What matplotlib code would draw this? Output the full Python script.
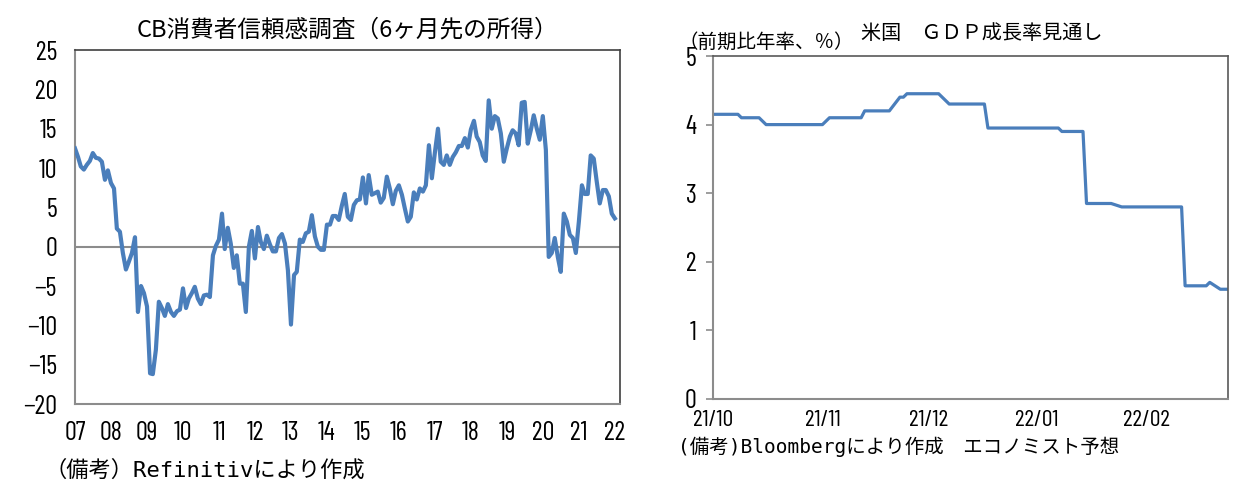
import numpy as np
import pandas as pd
import matplotlib
matplotlib.use('Agg')
import matplotlib.pyplot as plt

# CB consumer confidence, income expectations 6 months ahead (monthly, from Jan 2007)
cb_income = [
    12.5, 11.4, 10.2, 9.8, 10.4, 10.9, 11.9, 11.3, 11.2, 10.8, 8.5, 9.7,
    8.1, 7.4, 2.3, 1.9, -0.8, -2.9, -1.9, -0.8, 1.2, -8.3, -5.0, -5.9,
    -7.6, -16.1, -16.2, -13.1, -7.0, -7.8, -8.8, -7.3, -8.3, -8.8, -8.2, -8.0,
    -5.3, -7.8, -6.6, -5.9, -5.1, -6.6, -7.3, -6.2, -6.1, -6.4, -1.1, 0.1,
    0.9, 4.2, -0.3, 2.4, 0.4, -2.7, -1.1, -4.7, -4.7, -8.3, 0.0, 2.0,
    -1.5, 2.5, 0.6, -0.3, 1.4, 0.3, -0.6, -0.6, 1.1, 1.6, 0.4, -3.0,
    -9.9, -3.6, -3.2, 0.9, 0.6, 1.7, 1.9, 4.0, 1.3, 0.0, -0.4, -0.4,
    2.8, 2.8, 3.9, 3.9, 3.4, 5.2, 6.7, 3.8, 3.4, 5.3, 5.9, 6.0,
    8.8, 5.5, 9.1, 6.6, 6.8, 7.0, 5.6, 6.2, 8.9, 7.4, 5.4, 7.1,
    7.8, 6.6, 4.9, 3.2, 3.8, 6.9, 6.0, 7.4, 7.0, 7.8, 12.9, 8.7,
    12.0, 15.0, 10.8, 10.4, 11.6, 10.4, 11.4, 12.0, 12.8, 12.8, 13.8, 12.6,
    14.9, 16.0, 14.0, 13.3, 11.6, 10.9, 18.6, 15.0, 16.6, 16.3, 14.4, 10.8,
    12.5, 14.0, 14.8, 14.4, 12.9, 18.3, 18.4, 13.1, 14.8, 16.7, 15.0, 13.6,
    16.6, 12.3, -1.3, -0.8, 1.1, -1.3, -3.2, 4.2, 3.2, 1.5, 1.1, -0.8,
    3.2, 7.8, 6.7, 6.7, 11.6, 11.2, 8.3, 5.5, 7.2, 7.2, 6.4, 4.2,
    3.6,
]
cb_months = pd.date_range('2007-01-01', periods=len(cb_income), freq='MS')
year_labels = ['07', '08', '09', '10', '11', '12', '13', '14', '15',
               '16', '17', '18', '19', '20', '21', '22']
cb_yticks = [-20, -15, -10, -5, 0, 5, 10, 15, 20, 25]

# US GDP growth forecast (economist consensus)
gdp_dates = ['2021-10-01', '2021-10-08', '2021-10-09', '2021-10-14', '2021-10-16',
             '2021-11-01', '2021-11-03', '2021-11-12', '2021-11-13', '2021-11-20',
             '2021-11-23', '2021-11-24', '2021-11-25', '2021-12-04', '2021-12-07',
             '2021-12-17', '2021-12-18', '2022-01-07', '2022-01-08', '2022-01-14',
             '2022-01-15', '2022-01-22', '2022-01-25', '2022-02-11', '2022-02-12',
             '2022-02-18', '2022-02-19', '2022-02-22', '2022-02-24']
gdp_values = [4.15, 4.15, 4.10, 4.10, 4.00,
              4.00, 4.10, 4.10, 4.20, 4.20,
              4.40, 4.40, 4.45, 4.45, 4.30,
              4.30, 3.95, 3.95, 3.90, 3.90,
              2.85, 2.85, 2.80, 2.80, 1.65,
              1.65, 1.70, 1.60, 1.60]
gdp_month_starts = ['2021-10-01', '2021-11-01', '2021-12-01', '2022-01-01', '2022-02-01']
gdp_month_labels = ['21/10', '21/11', '21/12', '22/01', '22/02']

line_color = '#4a7ebb'
narrow = ['Barlow Condensed', 'Archivo Narrow', 'DejaVu Sans']
jp = ['Noto Sans CJK JP', 'DejaVu Sans']
mono_jp = ['DejaVu Sans Mono', 'Noto Sans CJK JP']

fig = plt.figure(figsize=(12.56, 4.87), dpi=100)

# left chart
ax1 = fig.add_axes([0.0597, 0.1704, 0.4339, 0.7269])
ax1.axhline(0, color='#8c8c8c', lw=1.5, zorder=1)
ax1.plot(cb_months, cb_income, color=line_color, lw=3.0, zorder=3)
ax1.set_ylim(-20, 25)
ax1.set_xlim(pd.Timestamp('2007-01-01'), pd.Timestamp('2022-02-22'))
ax1.set_yticks(cb_yticks)
ax1.set_yticklabels([str(v).replace('-', '\u2212') for v in cb_yticks])
ax1.set_xticks(pd.date_range('2007-01-01', periods=len(year_labels), freq='12MS'))
ax1.set_xticklabels(year_labels)
ax1.tick_params(axis='both', length=0, labelsize=19)
ax1.tick_params(axis='y', pad=13)
ax1.tick_params(axis='x', pad=12)
for lab in ax1.get_xticklabels() + ax1.get_yticklabels():
    lab.set_family(narrow)
for side in ['left', 'bottom']:
    ax1.spines[side].set_color('#8c8c8c')
    ax1.spines[side].set_linewidth(1.5)
for side in ['top', 'right']:
    ax1.spines[side].set_color('#404040')
    ax1.spines[side].set_linewidth(1.2)

fig.text(347 / 1256, 1 - 30 / 487, 'CB消費者信頼感調査（6ヶ月先の所得）',
         ha='center', va='center', fontsize=17, family=jp)
fig.text(44 / 1256, 1 - 470 / 487, '（備考）Refinitivにより作成',
         ha='left', va='center', fontsize=16, family=mono_jp)

# right chart
ax2 = fig.add_axes([0.5679, 0.1807, 0.4100, 0.7043])
ax2.plot(pd.to_datetime(gdp_dates), gdp_values, color=line_color, lw=2.3)
ax2.set_ylim(0, 5)
ax2.set_xlim(pd.Timestamp('2021-10-01'), pd.Timestamp('2022-02-24 06:00'))
ax2.set_yticks([0, 1, 2, 3, 4, 5])
ax2.set_xticks(pd.to_datetime(gdp_month_starts))
ax2.set_xticklabels(gdp_month_labels)
ax2.tick_params(axis='y', length=5, width=1.2, color='#8c8c8c',
                labelsize=19, pad=7)
ax2.tick_params(axis='x', length=0, labelsize=17, pad=8)
for lab in ax2.get_xticklabels() + ax2.get_yticklabels():
    lab.set_family(narrow)
for side in ['left', 'bottom']:
    ax2.spines[side].set_color('#8c8c8c')
    ax2.spines[side].set_linewidth(1.5)
for side in ['top', 'right']:
    ax2.spines[side].set_color('#595959')
    ax2.spines[side].set_linewidth(1.2)

fig.text(678 / 1256, 1 - 42 / 487, '（前期比年率、％）',
         ha='left', va='center', fontsize=14, family=jp)
fig.text(861 / 1256, 1 - 33 / 487, '米国　ＧＤＰ成長率見通し',
         ha='left', va='center', fontsize=14.5, family=jp)
fig.text(678 / 1256, 1 - 447 / 487, '(備考)Bloombergにより作成　エコノミスト予想',
         ha='left', va='center', fontsize=14, family=mono_jp)

fig.savefig('out.png', dpi=100)
